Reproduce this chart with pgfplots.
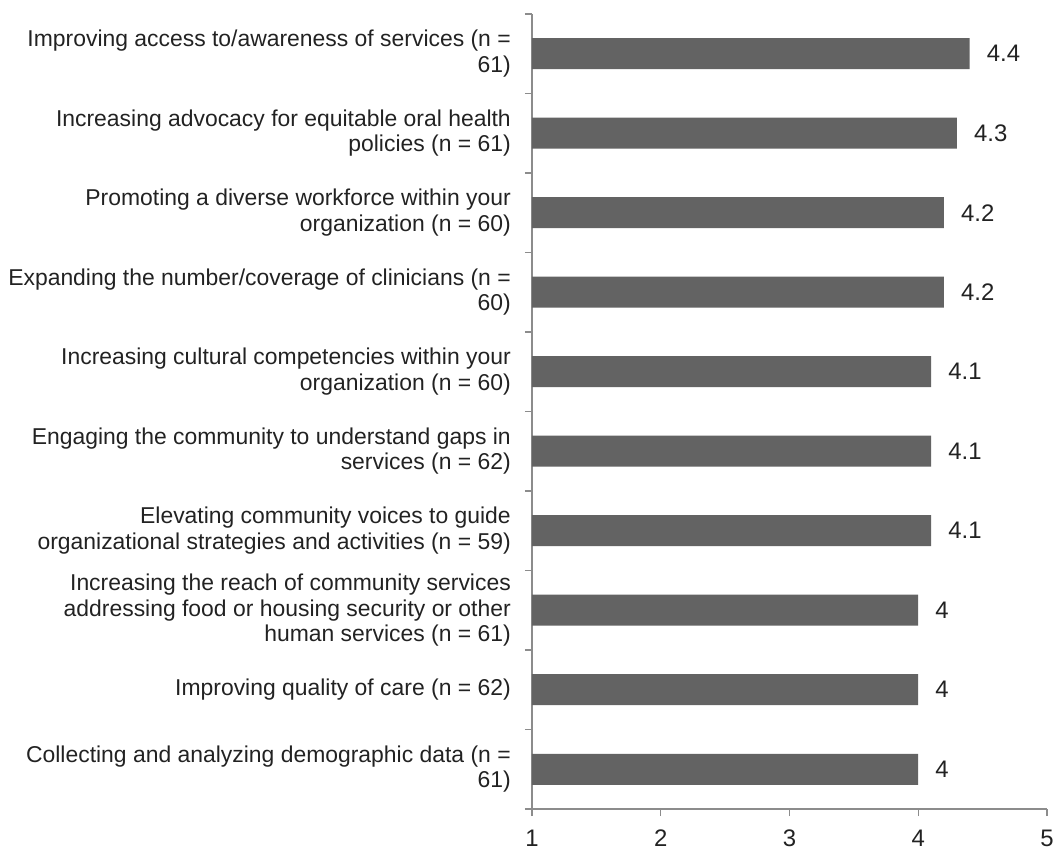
\documentclass[border=0pt]{standalone}
\usepackage{fontspec}
\setmainfont{Liberation Sans}
\usepackage{pgfplots}
\pgfplotsset{compat=1.18}
\definecolor{barcol}{HTML}{636363}
\definecolor{axcol}{HTML}{8C8C8C}
\definecolor{txt}{HTML}{222222}
\begin{document}
\begin{tikzpicture}
\useasboundingbox (-532bp,-42bp) rectangle (525bp,809bp);
\begin{axis}[
  at={(0,0)}, anchor=south west,
  scale only axis, width=515bp, height=795bp,
  xmin=1, xmax=5, ymin=0.5, ymax=10.5,
  xbar, bar width=31bp,
  axis x line*=bottom, axis y line*=left,
  axis line style={axcol, line width=1.2pt},
  every tick/.style={axcol, line width=1.2pt},
  xtick={1,2,3,4,5},
  tick align=outside,
  major tick length=7bp,
  ytick={1,...,10},
  minor ytick={0.5,1.5,...,10.5},
  minor tick length=7bp,
  ytick style={draw=none},
  minor y tick style={axcol, line width=1.2pt, draw=axcol},
  yticklabels={
    {Collecting and analyzing demographic data (n =\\61)},
    {Improving quality of care (n = 62)},
    {Increasing the reach of community services\\addressing food or housing security or other\\human services (n = 61)},
    {Elevating community voices to guide\\organizational strategies and activities (n = 59)},
    {Engaging the community to understand gaps in\\services (n = 62)},
    {Increasing cultural competencies within your\\organization (n = 60)},
    {Expanding the number/coverage of clinicians (n =\\60)},
    {Promoting a diverse workforce within your\\organization (n = 60)},
    {Increasing advocacy for equitable oral health\\policies (n = 61)},
    {Improving access to/awareness of services (n =\\61)}
  },
  yticklabel style={align=right, font=\fontsize{23}{25.5}\selectfont, text=txt, inner sep=0pt, xshift=-14bp},
  xticklabel style={font=\fontsize{24}{26}\selectfont, text=txt, inner sep=0pt, anchor=north, text height=17bp, text depth=0pt, yshift=-13bp},
  /pgf/number format/assume math mode=true,
  nodes near coords={\pgfmathprintnumber{\pgfplotspointmeta}},
  nodes near coords style={font=\fontsize{24}{26}\selectfont, text=txt, anchor=west, inner sep=0pt, xshift=17bp},
  clip=false,
]
\addplot[fill=barcol, draw=none] coordinates {
  (4.0,1) (4.0,2) (4.0,3) (4.1,4) (4.1,5) (4.1,6) (4.2,7) (4.2,8) (4.3,9) (4.4,10)
};
\end{axis}
\end{tikzpicture}
\end{document}
